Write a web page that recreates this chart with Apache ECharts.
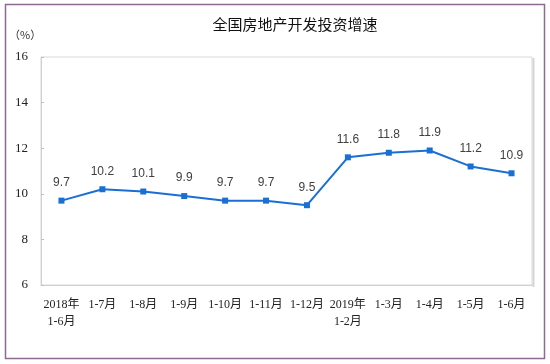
<!DOCTYPE html>
<html><head><meta charset="utf-8">
<script src="https://cdn.jsdelivr.net/npm/echarts@6/dist/echarts.min.js"></script>
<style>html,body{margin:0;padding:0;background:#fff}#c{width:550px;height:364px}</style>
</head><body><div id="c"></div>
<script>
const titleText = '全国房地产开发投资增速';
const unitText = '（%）';
const categories = ['2018年\n1-6月','1-7月','1-8月','1-9月','1-10月','1-11月','1-12月','2019年\n1-2月','1-3月','1-4月','1-5月','1-6月'];
const growth = [9.7, 10.2, 10.1, 9.9, 9.7, 9.7, 9.5, 11.6, 11.8, 11.9, 11.2, 10.9];
const yTicks = [6, 8, 10, 12, 14, 16];

const chart = echarts.init(document.getElementById('c'));
chart.setOption({
  animation: false,
  title: {
    text: titleText, left: 290, top: 12, textAlign: 'center',
    textStyle: {fontFamily: 'Noto Sans CJK SC', fontSize: 15, fontWeight: 'normal', color: '#111'}
  },
  graphic: [
    {type: 'rect', shape: {x: 5.5, y: 4.5, width: 539, height: 354}, style: {fill: 'none', stroke: '#8e6a92', lineWidth: 1.5}, z: -1},
    {type: 'line', shape: {x1: 533.5, y1: 58, x2: 533.5, y2: 287}, style: {stroke: '#d4d4d4', lineWidth: 2}},
    {type: 'text', left: 9, top: 29, style: {text: unitText, font: '11px "Noto Sans CJK SC"', fill: '#333'}}
  ],
  grid: {left: 41, top: 57, right: 18, bottom: 79, show: true, borderColor: '#d9d9d9', borderWidth: 1},
  xAxis: {
    type: 'category', data: categories, boundaryGap: true,
    axisLine: {lineStyle: {color: '#d0d0d0'}},
    axisTick: {inside: true, length: 3, lineStyle: {color: '#c0c0c0'}},
    axisLabel: {interval: 0, margin: 11, lineHeight: 17, fontFamily: '"Liberation Serif", "Noto Sans CJK SC"', fontSize: 12, color: '#222'}
  },
  yAxis: {
    type: 'value', min: yTicks[0], max: yTicks[yTicks.length - 1], interval: 2,
    axisLine: {show: true, lineStyle: {color: '#d0d0d0'}},
    axisTick: {show: true, inside: true, length: 3, lineStyle: {color: '#c0c0c0'}},
    splitLine: {show: false},
    axisLabel: {margin: 13, fontFamily: '"Liberation Serif"', fontSize: 13, color: '#222'}
  },
  series: [{
    type: 'line', data: growth,
    symbol: 'rect', symbolSize: 6,
    lineStyle: {color: '#1a6fd4', width: 2},
    itemStyle: {color: '#1a6fd4'},
    label: {show: true, position: 'top', distance: 9, fontFamily: '"Liberation Sans"', fontSize: 12, color: '#404040'}
  }]
});
</script></body></html>
